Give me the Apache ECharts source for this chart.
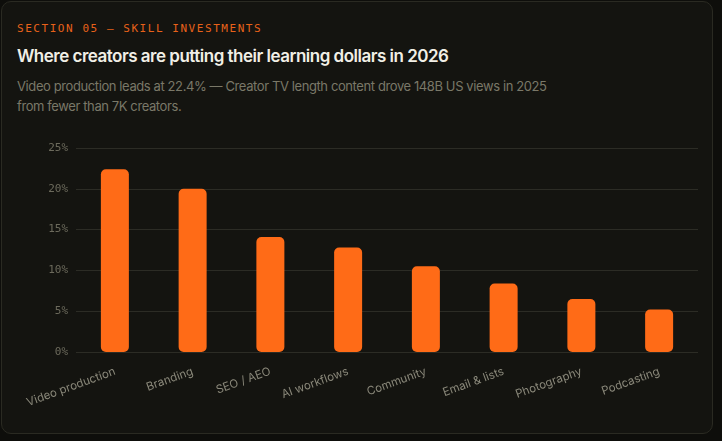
<!DOCTYPE html>
<html lang="en">
<head>
<meta charset="utf-8">
<title>Skill investments</title>
<script src="https://cdn.jsdelivr.net/npm/echarts@6/dist/echarts.min.js"></script>
<style>
  html, body { margin: 0; padding: 0; background: #0e0e0b; }
  .card {
    position: absolute; left: 1px; top: 1px; width: 710px; height: 431px;
    background: #141410; border: 1px solid #2a2a22; border-radius: 10px;
    overflow: hidden; font-family: Inter, "Noto Sans", sans-serif;
  }
  .kicker {
    position: absolute; left: 15px; top: 20px; margin: 0;
    font-family: "DejaVu Sans Mono", monospace; font-size: 11px;
    letter-spacing: 1.55px; color: #e8621a;
  }
  .title {
    position: absolute; left: 15px; top: 44px; margin: 0;
    font-size: 17px; font-weight: 600; color: #f1efe6; letter-spacing: -0.5px;
  }
  .sub {
    position: absolute; left: 15px; top: 74px; margin: 0; white-space: nowrap;
    font-size: 13px; line-height: 20px; color: #7a7868; letter-spacing: -0.4px;
  }
  #chart { position: absolute; left: 0; top: 127px; width: 710px; height: 300px; }
</style>
</head>
<body>
<div class="card">
  <p class="kicker">SECTION 05 — SKILL INVESTMENTS</p>
  <p class="title">Where creators are putting their learning dollars in 2026</p>
  <p class="sub">Video production leads at 22.4% — Creator TV length content drove 148B US views in 2025<br>from fewer than 7K creators.</p>
  <div id="chart"></div>
</div>
<script>
  // skill categories and share of spend (%)
  var skills = ['Video production', 'Branding', 'SEO / AEO', 'AI workflows', 'Community', 'Email & lists', 'Photography', 'Podcasting'];
  var shares = [22.4, 20.0, 14.1, 12.8, 10.5, 8.4, 6.5, 5.2];

  var chart = echarts.init(document.getElementById('chart'));

  chart.setOption({
    backgroundColor: 'transparent',
    grid: { left: 74, right: 14, top: 19, bottom: 77 },
    xAxis: {
      type: 'category',
      data: skills,
      axisLine: { show: false },
      axisTick: { show: false },
      axisLabel: {
        rotate: 20, margin: 19, color: '#8a887a', fontSize: 11.5,
        fontFamily: 'Inter, "Noto Sans", sans-serif', interval: 0
      }
    },
    yAxis: {
      type: 'value',
      min: 0, max: 25, interval: 5,
      axisLabel: {
        formatter: '{value}%', color: '#6c6a5c', fontSize: 11, margin: 8,
        fontFamily: '"DejaVu Sans Mono", monospace'
      },
      splitLine: { lineStyle: { color: '#2c2c25', width: 1 } }
    },
    series: [{
      type: 'bar',
      data: shares,
      barWidth: 28,
      itemStyle: { color: '#ff6b17', borderRadius: 5 },
      animation: false
    }]
  });
</script>
</body>
</html>
